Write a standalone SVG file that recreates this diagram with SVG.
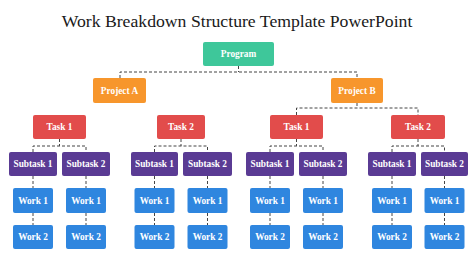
<svg xmlns="http://www.w3.org/2000/svg" width="474" height="266" viewBox="0 0 474 266">
<style>
.bx{rx:2;ry:2}
.prog{fill:#3EC79A}
.proj{fill:#F7962C}
.task{fill:#E24C4B}
.sub{fill:#5A3B94}
.work{fill:#2F86DF}
.lbl{font-family:"Liberation Serif","DejaVu Serif",serif;font-weight:bold;font-size:9.3px;fill:#fff;text-anchor:middle}
.title{font-family:"Liberation Serif","DejaVu Serif",serif;font-size:17.7px;fill:#1a1a1a;text-anchor:middle}
.cn{fill:none;stroke:#444;stroke-width:1;stroke-dasharray:3 2}
</style>
<rect width="474" height="266" fill="#fff"/>
<text class="title" x="237" y="27">Work Breakdown Structure Template PowerPoint</text>
<g id="connectors">
<path class="cn" d="M238.5 66V72M120 78V72H357V78"/>
<path class="cn" d="M357 103V108M296.5 115V108H418V115"/>
<path class="cn" d="M59.5 139V146M33 152V146H86V152"/>
<path class="cn" d="M181 139V146M154.5 152V146H207.5V152"/>
<path class="cn" d="M296.5 139V146M270 152V146H323V152"/>
<path class="cn" d="M418 139V146M392 152V146H444.5V152"/>
<path class="cn" d="M33 176V188M33 213V225M86 176V188M86 213V225M154.5 176V188M154.5 213V225M207.5 176V188M207.5 213V225M270 176V188M270 213V225M323 176V188M323 213V225M392 176V188M392 213V225M444.5 176V188M444.5 213V225"/>
</g>
<g id="program"><rect class="bx prog" x="203" y="42" width="71" height="24"/><text class="lbl" x="238.5" y="57.2">Program</text></g>
<g id="projectA"><rect class="bx proj" x="93" y="78" width="53" height="25"/><text class="lbl" x="119.5" y="93.7">Project A</text></g>
<g id="projectB"><rect class="bx proj" x="331" y="78" width="52" height="25"/><text class="lbl" x="357" y="93.7">Project B</text></g>
<g id="taskA1"><rect class="bx task" x="33" y="115" width="53" height="24"/><text class="lbl" x="59.5" y="130.2">Task 1</text></g>
<g id="taskA2"><rect class="bx task" x="157" y="115" width="48" height="24"/><text class="lbl" x="181" y="130.2">Task 2</text></g>
<g id="taskB1"><rect class="bx task" x="270" y="115" width="53" height="24"/><text class="lbl" x="296.5" y="130.2">Task 1</text></g>
<g id="taskB2"><rect class="bx task" x="391" y="115" width="54" height="24"/><text class="lbl" x="418" y="130.2">Task 2</text></g>
<g id="subA1a"><rect class="bx sub" x="9" y="152" width="48" height="24"/><text class="lbl" x="33" y="167.2">Subtask 1</text></g>
<g id="subA1b"><rect class="bx sub" x="62" y="152" width="48" height="24"/><text class="lbl" x="86" y="167.2">Subtask 2</text></g>
<g id="subA2a"><rect class="bx sub" x="131" y="152" width="47" height="24"/><text class="lbl" x="154.5" y="167.2">Subtask 1</text></g>
<g id="subA2b"><rect class="bx sub" x="183" y="152" width="49" height="24"/><text class="lbl" x="207.5" y="167.2">Subtask 2</text></g>
<g id="subB1a"><rect class="bx sub" x="246" y="152" width="48" height="24"/><text class="lbl" x="270" y="167.2">Subtask 1</text></g>
<g id="subB1b"><rect class="bx sub" x="299" y="152" width="48" height="24"/><text class="lbl" x="323" y="167.2">Subtask 2</text></g>
<g id="subB2a"><rect class="bx sub" x="368" y="152" width="48" height="24"/><text class="lbl" x="392" y="167.2">Subtask 1</text></g>
<g id="subB2b"><rect class="bx sub" x="421" y="152" width="47" height="24"/><text class="lbl" x="444.5" y="167.2">Subtask 2</text></g>
<g id="wA1a1"><rect class="bx work" x="13" y="188" width="40" height="25"/><text class="lbl" x="33" y="203.7">Work 1</text></g>
<g id="wA1a2"><rect class="bx work" x="13" y="225" width="40" height="24"/><text class="lbl" x="33" y="240.2">Work 2</text></g>
<g id="wA1b1"><rect class="bx work" x="66" y="188" width="40" height="25"/><text class="lbl" x="86" y="203.7">Work 1</text></g>
<g id="wA1b2"><rect class="bx work" x="66" y="225" width="40" height="24"/><text class="lbl" x="86" y="240.2">Work 2</text></g>
<g id="wA2a1"><rect class="bx work" x="134.5" y="188" width="40" height="25"/><text class="lbl" x="154.5" y="203.7">Work 1</text></g>
<g id="wA2a2"><rect class="bx work" x="134.5" y="225" width="40" height="24"/><text class="lbl" x="154.5" y="240.2">Work 2</text></g>
<g id="wA2b1"><rect class="bx work" x="187.5" y="188" width="40" height="25"/><text class="lbl" x="207.5" y="203.7">Work 1</text></g>
<g id="wA2b2"><rect class="bx work" x="187.5" y="225" width="40" height="24"/><text class="lbl" x="207.5" y="240.2">Work 2</text></g>
<g id="wB1a1"><rect class="bx work" x="250" y="188" width="40" height="25"/><text class="lbl" x="270" y="203.7">Work 1</text></g>
<g id="wB1a2"><rect class="bx work" x="250" y="225" width="40" height="24"/><text class="lbl" x="270" y="240.2">Work 2</text></g>
<g id="wB1b1"><rect class="bx work" x="303" y="188" width="40" height="25"/><text class="lbl" x="323" y="203.7">Work 1</text></g>
<g id="wB1b2"><rect class="bx work" x="303" y="225" width="40" height="24"/><text class="lbl" x="323" y="240.2">Work 2</text></g>
<g id="wB2a1"><rect class="bx work" x="372" y="188" width="40" height="25"/><text class="lbl" x="392" y="203.7">Work 1</text></g>
<g id="wB2a2"><rect class="bx work" x="372" y="225" width="40" height="24"/><text class="lbl" x="392" y="240.2">Work 2</text></g>
<g id="wB2b1"><rect class="bx work" x="424.5" y="188" width="40" height="25"/><text class="lbl" x="444.5" y="203.7">Work 1</text></g>
<g id="wB2b2"><rect class="bx work" x="424.5" y="225" width="40" height="24"/><text class="lbl" x="444.5" y="240.2">Work 2</text></g>
</svg>
